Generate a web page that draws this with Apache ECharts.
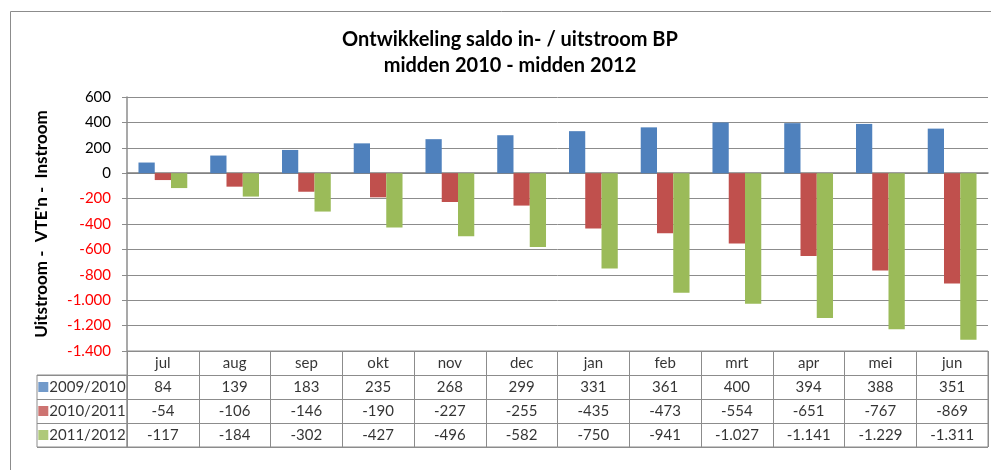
<!DOCTYPE html>
<html>
<head>
<meta charset="utf-8">
<script src="https://cdn.jsdelivr.net/npm/echarts@6/dist/echarts.min.js"></script>
<style>
  html, body { margin: 0; padding: 0; background: #fff; }
  #chart { width: 991px; height: 470px; }
</style>
</head>
<body>
<div id="chart"></div>
<script>
  // maanden en reeksen
  const months = ['jul', 'aug', 'sep', 'okt', 'nov', 'dec', 'jan', 'feb', 'mrt', 'apr', 'mei', 'jun']
  const seriesNames = ['2009/2010', '2010/2011', '2011/2012']
  const s2009 = [84, 139, 183, 235, 268, 299, 331, 361, 400, 394, 388, 351]
  const s2010 = [-54, -106, -146, -190, -227, -255, -435, -473, -554, -651, -767, -869]
  const s2011 = [-117, -184, -302, -427, -496, -582, -750, -941, -1027, -1141, -1229, -1311]
  const colors = ['#4F81BD', '#C0504D', '#9BBB59']

  const FONT = "Lato, 'Noto Sans', sans-serif"
  const LINE = '#8c8c8c'

  /** getallen met punt als duizendtal-scheiding */
  function fmt(v) {
    return String(v).replace(/\B(?=(\d{3})+(?!\d))/g, '.')
  }

  const allSeries = [s2009, s2010, s2011]

  /** cellen van de datatabel */
  const cells = []
  months.forEach((m, i) => {
    cells.push({ value: [i, 0], label: { formatter: m } })
    allSeries.forEach((s, r) => {
      cells.push({ value: [i, r + 1], label: { formatter: fmt(s[i]) } })
    })
  })

  /** legenda-kolom van de tabel */
  const legendCells = seriesNames.map((n, r) => ({
    value: [0, r],
    label: { formatter: '{s' + (r + 1) + '|}{t|' + n + '}' }
  }))

  const chart = echarts.init(document.getElementById('chart'))
  chart.setOption({
    animation: false,
    textStyle: { fontFamily: FONT },
    title: {
      text: 'Ontwikkeling saldo in- / uitstroom BP\nmidden 2010 - midden 2012',
      left: 505,
      top: 22,
      textAlign: 'center',
      textStyle: { fontFamily: FONT, fontSize: 20, fontWeight: 'bold', color: '#000', lineHeight: 26 }
    },
    graphic: [{
      type: 'rect',
      shape: { x: 10.5, y: 11.5, width: 1000, height: 500 },
      style: { fill: 'none', stroke: LINE, lineWidth: 1 },
      silent: true
    }],
    grid: [
      { left: 127, top: 97, right: 3, height: 254 },
      { left: 127, top: 351, right: 3, height: 96, show: true, borderColor: LINE, borderWidth: 1 },
      { left: 37, top: 375, width: 90, height: 72, show: true, borderColor: LINE, borderWidth: 1 }
    ],
    xAxis: [
      {
        type: 'category',
        gridIndex: 0,
        data: months,
        axisLine: { onZero: true, lineStyle: { color: '#7f7f7f', width: 1.5 } },
        axisTick: { show: false },
        axisLabel: { show: false }
      },
      {
        type: 'category',
        gridIndex: 1,
        data: months,
        axisLine: { show: false },
        axisTick: { show: false },
        axisLabel: { show: false },
        splitLine: { show: true, interval: 0, lineStyle: { color: LINE } }
      },
      {
        type: 'category',
        gridIndex: 2,
        data: [''],
        axisLine: { show: false },
        axisTick: { show: false },
        axisLabel: { show: false }
      }
    ],
    yAxis: [
      {
        type: 'value',
        gridIndex: 0,
        min: -1400,
        max: 600,
        interval: 200,
        name: "Uitstroom -  VTE'n -  Instroom",
        nameLocation: 'middle',
        nameGap: 77,
        nameTextStyle: { fontFamily: FONT, fontSize: 17, fontWeight: 'bold', color: '#000' },
        axisLine: { show: true, lineStyle: { color: LINE, width: 1.5 } },
        axisTick: { show: true, length: 5, lineStyle: { color: LINE } },
        axisLabel: {
          margin: 16,
          fontSize: 15,
          formatter: v => fmt(v),
          color: v => (Number(v) < 0 ? '#ff0000' : '#000')
        },
        splitLine: { lineStyle: { color: LINE } }
      },
      {
        type: 'category',
        gridIndex: 1,
        inverse: true,
        data: ['', '', '', ''],
        axisLine: { show: false },
        axisTick: { show: false },
        axisLabel: { show: false },
        splitLine: { show: true, interval: 0, lineStyle: { color: LINE } }
      },
      {
        type: 'category',
        gridIndex: 2,
        inverse: true,
        data: seriesNames,
        axisLine: { show: false },
        axisTick: { show: false },
        axisLabel: { show: false },
        splitLine: { show: true, interval: 0, lineStyle: { color: LINE } }
      }
    ],
    series: [
      {
        name: seriesNames[0], type: 'bar', data: s2009, xAxisIndex: 0, yAxisIndex: 0,
        barGap: '0%', barCategoryGap: '32%', itemStyle: { color: colors[0] }
      },
      {
        name: seriesNames[1], type: 'bar', data: s2010, xAxisIndex: 0, yAxisIndex: 0,
        barGap: '0%', barCategoryGap: '32%', itemStyle: { color: colors[1] }
      },
      {
        name: seriesNames[2], type: 'bar', data: s2011, xAxisIndex: 0, yAxisIndex: 0,
        barGap: '0%', barCategoryGap: '32%', itemStyle: { color: colors[2] }
      },
      {
        type: 'scatter',
        xAxisIndex: 1,
        yAxisIndex: 1,
        symbolSize: 0,
        silent: true,
        data: cells,
        label: { show: true, position: 'inside', fontFamily: FONT, fontSize: 15, color: '#000' }
      },
      {
        type: 'scatter',
        xAxisIndex: 2,
        yAxisIndex: 2,
        symbolSize: 0,
        silent: true,
        data: legendCells,
        label: {
          show: true,
          position: 'inside',
          rich: {
            s1: { width: 10, height: 10, backgroundColor: colors[0] },
            s2: { width: 10, height: 10, backgroundColor: colors[1] },
            s3: { width: 10, height: 10, backgroundColor: colors[2] },
            t: { fontFamily: FONT, fontSize: 15, color: '#000', padding: [0, 0, 0, 1] }
          }
        }
      }
    ]
  })
</script>
</body>
</html>
